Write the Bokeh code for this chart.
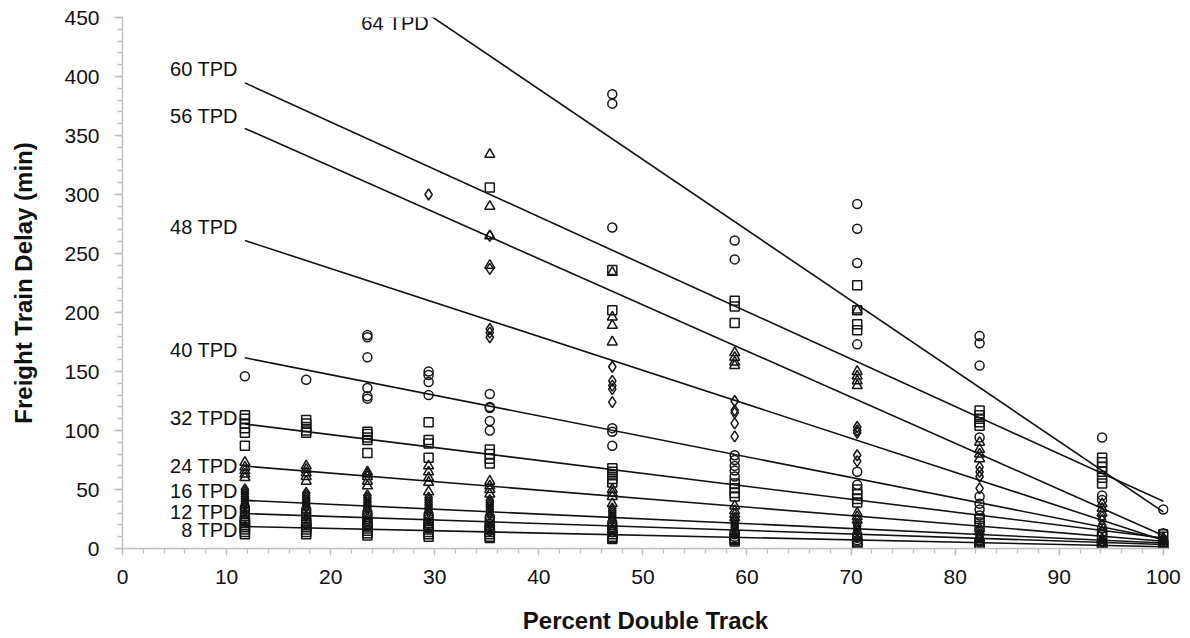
from bokeh.plotting import figure
from bokeh.models import Range1d, SingleIntervalTicker, Label
from bokeh.embed import file_html
from bokeh.resources import INLINE

# ---------------- data ----------------
pct_double = [11.76, 17.65, 23.53, 29.41, 35.29, 47.06, 58.82, 70.59, 82.35, 94.12, 100.0]

series_names = ["64 TPD", "60 TPD", "56 TPD", "48 TPD", "40 TPD",
                "32 TPD", "24 TPD", "16 TPD", "12 TPD", "8 TPD"]

delay_64 = [[], [], [], [], [], [385, 377, 272], [261, 245], [292, 271, 242, 173],
            [180, 174, 155, 94], [94, 45, 41], [33, 13]]
delay_60 = [[], [], [], [], [306], [236, 202], [210, 205, 191], [223, 202, 190, 185],
            [117, 113, 110, 107, 104], [77, 73, 69, 65, 60, 55], [12, 10]]
delay_56 = [[], [], [], [], [334, 290, 265, 240], [234, 196, 189, 175], [166, 162, 158, 155],
            [202, 150, 146, 142, 138], [90, 84, 80, 76], [38, 34, 30], [9, 8]]
delay_48 = [[], [], [], [300], [265, 237, 186, 183, 179], [154, 142, 138, 135, 124],
            [125, 117, 115, 106, 95], [103, 100, 98, 79, 74], [69, 65, 61, 51], [27, 24, 20], [7, 6]]
delay_40 = [[146], [143], [181, 179, 162, 136, 129, 127], [150, 147, 141, 130],
            [131, 120, 119, 108, 100], [102, 99, 87], [79, 75, 70, 66, 61], [65, 54],
            [44, 38, 33, 28], [17, 14], [5, 4]]
delay_32 = [[113, 110, 106, 102, 98, 87], [109, 106, 103, 100, 98], [99, 97, 94, 92, 81],
            [107, 92, 89, 77], [84, 80, 76, 72], [68, 65, 62, 59, 56], [55, 51, 47, 44],
            [50, 46, 42, 39], [25, 22, 19], [12, 10], [4, 3]]
delay_24 = [[73, 69, 66, 63, 60], [70, 67, 64, 61, 57], [65, 63, 61, 57, 53], [70, 65, 60, 56, 48],
            [57, 53, 50, 46], [50, 47, 44, 38], [36, 32, 29, 26], [30, 27, 24], [17, 14], [8, 7], [3]]
delay_16 = [[50, 48, 46, 44, 42, 40, 38, 36], [47, 45, 43, 41, 39, 37, 35],
            [45, 43, 41, 39, 37, 35, 33], [43, 41, 39, 37, 35, 33, 31],
            [41, 39, 37, 35, 33, 31, 29], [34, 32, 30, 28, 26, 24], [24, 22, 20, 18, 16],
            [21, 19, 17, 15], [12, 10, 9], [6, 5, 4], [2.5, 2]]
delay_12 = [[35, 33, 31, 29, 27, 25, 23], [33, 31, 29, 27, 25, 23, 21],
            [31, 29, 27, 25, 23, 21, 19], [29, 27, 25, 23, 21, 19, 17],
            [27, 25, 23, 21, 19, 17, 15], [22, 20, 18, 16, 14], [14, 13, 12, 10],
            [12, 10, 9, 7], [7, 6, 5], [3.5, 3, 2], [1.5]]
delay_8 = [[24, 22, 20, 18, 16, 14, 12], [22, 20, 18, 16, 14, 12], [21, 19, 17, 15, 13, 11],
           [20, 18, 16, 14, 12, 10], [18, 16, 14, 12, 10, 9], [14, 12, 10, 9, 8],
           [9, 8, 7, 6], [6, 5, 4, 3], [4, 3, 2], [2, 1.5, 1], [1, 0.8]]

all_delays = [delay_64, delay_60, delay_56, delay_48, delay_40,
              delay_32, delay_24, delay_16, delay_12, delay_8]

# trend line values at the first and last percent double track
trend_start = [558, 394.6, 356, 261, 161.6, 105.5, 69.8, 40.8, 29.6, 18.6]
trend_end = [31, 40, 11, 7, 8, 8.9, 6.2, 4.6, 3.4, 1.5]

# ---------------- styling ----------------
marker_cycle = ["circle", "square", "triangle", "diamond"]
marker_size = {"circle": 9, "square": 9, "triangle": 10, "diamond": 11}
label_dy = [-5, 14, 12, 14, 8, 6, 0, 9, 2, -3]   # px offset of the line labels
Y_MAX = 450
FONT = "Liberation Sans"
AXIS_GRAY = "#bfbfbf"

p = figure(width=1188, height=636, x_range=Range1d(0, 100.5), y_range=Range1d(0, Y_MAX),
           output_backend="svg", toolbar_location=None,
           min_border_left=122, min_border_right=20, min_border_top=17, min_border_bottom=87)
p.xgrid.visible = False
p.ygrid.visible = False
p.outline_line_color = None
p.background_fill_color = "white"

for i, (name, delays) in enumerate(zip(series_names, all_delays)):
    xs, ys = [], []
    for x, vals in zip(pct_double, delays):
        for v in vals:
            xs.append(x)
            ys.append(v)
    m = marker_cycle[i % 4]
    p.scatter(xs, ys, marker=m, size=marker_size[m], fill_color=None,
              line_color="#151515", line_width=1.5)

for i, name in enumerate(series_names):
    x0, x1 = pct_double[0], pct_double[-1]
    y0, y1 = trend_start[i], trend_end[i]
    p.line([x0, x1], [y0, y1], line_color="#111111", line_width=1.6)
    if y0 > Y_MAX:
        lx = x0 + (Y_MAX - y0) * (x1 - x0) / (y1 - y0)
        ly = Y_MAX
        xo = -4
    else:
        lx, ly, xo = x0, y0, -7
    p.add_layout(Label(x=lx, y=ly, text=name, text_align="right", text_baseline="middle",
                       x_offset=xo, y_offset=label_dy[i], text_font=FONT,
                       text_font_size="20px", text_color="#111111"))

for ax in (p.xaxis, p.yaxis):
    ax.axis_line_color = AXIS_GRAY
    ax.axis_line_width = 1.5
    ax.major_tick_line_color = AXIS_GRAY
    ax.minor_tick_line_color = AXIS_GRAY
    ax.major_tick_line_width = 1.3
    ax.minor_tick_line_width = 1.3
    ax.major_tick_in = 0
    ax.minor_tick_in = 0
    ax.major_label_text_font = FONT
    ax.major_label_text_font_size = "21px"
    ax.major_label_text_color = "#111111"
    ax.axis_label_text_font = FONT
    ax.axis_label_text_font_size = "24px"
    ax.axis_label_text_font_style = "bold"
    ax.axis_label_text_color = "#111111"

p.xaxis.ticker = SingleIntervalTicker(interval=10, num_minor_ticks=5)
p.yaxis.ticker = SingleIntervalTicker(interval=50, num_minor_ticks=5)
p.xaxis.major_tick_out = 7
p.xaxis.minor_tick_out = 5
p.yaxis.major_tick_out = 8
p.yaxis.minor_tick_out = 5
p.xaxis.major_label_standoff = 14
p.yaxis.major_label_standoff = 15
p.xaxis.axis_label = "Percent Double Track"
p.yaxis.axis_label = "Freight Train Delay (min)"
p.xaxis.axis_label_standoff = 20
p.yaxis.axis_label_standoff = 24

open("out.html", "w").write(file_html(p, INLINE))
